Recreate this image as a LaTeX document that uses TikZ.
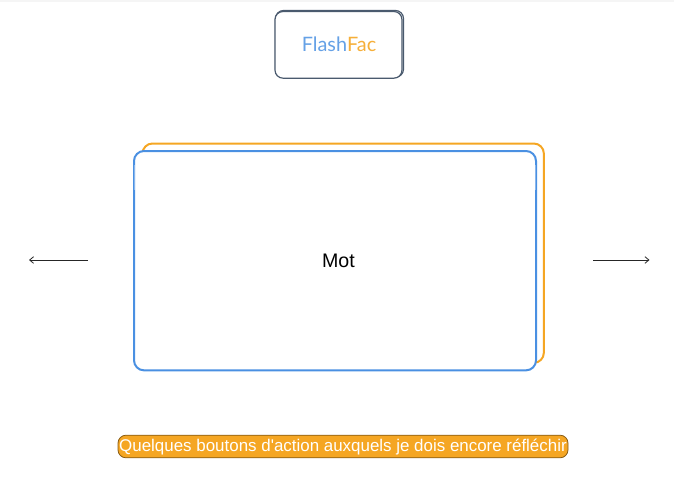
\documentclass[tikz,border=0pt]{standalone}
\usepackage{fontspec}
\setmainfont{Liberation Sans}
\newfontfamily\pillfont{Liberation Sans}
\newfontfamily\logofont{Lato}
\definecolor{cblue}{HTML}{4A90E2}
\definecolor{corange}{HTML}{F5A623}
\definecolor{cslate}{HTML}{4A5A6E}
\usetikzlibrary{arrows.meta}
\tikzset{
 px/.style={x=0.75pt,y=-0.75pt},
 card/.style={rectangle,rounded corners=7.5pt,line width=1.5pt,fill=white,inner sep=0pt,outer sep=0pt,anchor=north west},
 logobox/.style={rectangle,rounded corners=6pt,draw=cslate,line width=0.9pt,fill=white,inner sep=0pt,outer sep=0pt,anchor=north west},
 nav/.style={draw=black!85,line width=0.6pt,-{Straight Barb[length=3pt,width=5pt]}}
}
\begin{document}
\begin{tikzpicture}[px]
\useasboundingbox (0,0) rectangle (674,483);
\fill[black!4] (0,0) rectangle (674,2);
\node[logobox,minimum width=96pt,minimum height=50pt] (logoback) at (275.5,10.5) {};
\node[logobox,minimum width=95.2pt,minimum height=50pt] (logofront) at (275,11.5) {};
\node[inner sep=0pt,font=\logofont\fontsize{14.9pt}{17pt}\selectfont] (logotext) at (339,44) {\textcolor{cblue!85}{Flash}\textcolor{corange!90}{Fac}};
\node[card,draw=corange,minimum width=301pt,minimum height=164.5pt] (backcard) at (142.5,143.5) {};
\node[card,draw=cblue,minimum width=301.5pt,minimum height=164.5pt] (frontcard) at (134,151) {};
\draw[white,line width=0.5pt,opacity=.35] (134,165) -- (134,190) (535.5,165) -- (535.5,190);
\node[inner sep=0pt,font=\fontsize{14.7pt}{17pt}\selectfont] (word) at (338.5,260.5) {Mot};
\coordinate (leftstart) at (88,260);
\coordinate (leftend) at (29,260);
\coordinate (rightstart) at (593,260);
\coordinate (rightend) at (649.5,260);
\draw[nav] (leftstart) -- (leftend);
\draw[nav] (rightstart) -- (rightend);
\node[rectangle,rounded corners=6pt,draw=black!45!corange,line width=0.6pt,fill=corange,minimum width=337.5pt,minimum height=17pt,inner sep=0pt,outer sep=0pt,text=white,font=\pillfont\fontsize{12.7pt}{15pt}\selectfont] (actions) at (343,446.5) {\raisebox{-3.4pt}[0pt][0pt]{Quelques boutons d'action auxquels je dois encore réfléchir}};
\end{tikzpicture}
\end{document}
